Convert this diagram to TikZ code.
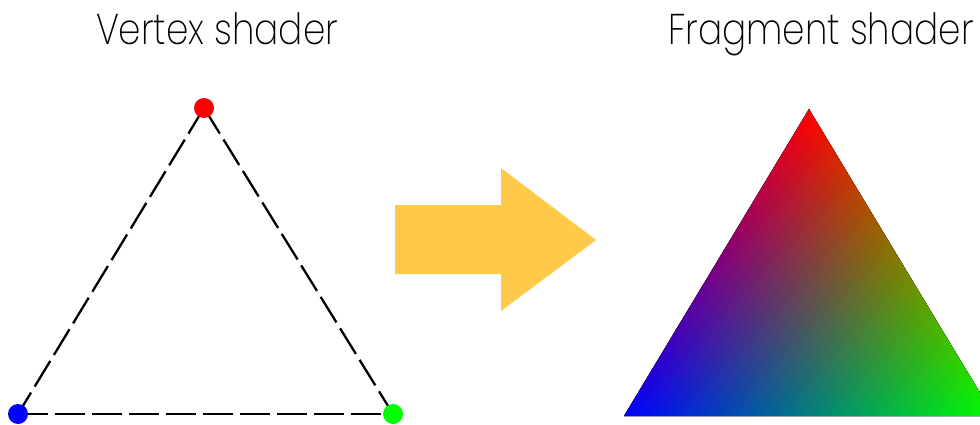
\documentclass[tikz,border=0pt]{standalone}
\usepackage{graphicx}
\usepackage{fontspec}
\newfontfamily\titlefont{Poppins ExtraLight}
\usetikzlibrary{backgrounds}
\definecolor{arrowyellow}{RGB}{255,201,74}
\newcommand{\narrow}[1]{\scalebox{0.834}[1]{#1}}

\begin{document}
\begin{tikzpicture}[x=1pt, y=1pt]
  \tikzstyle{title} = [font=\titlefont\fontsize{43}{43}\selectfont, anchor=base, inner sep=0pt]
  \tikzstyle{vertex} = [circle, minimum size=20pt, inner sep=0pt]
  \tikzstyle{edge} = [line width=2.3pt, dash pattern=on 30pt off 7pt]
  \useasboundingbox (0,0) rectangle (980,424);

  \node (vtitle) [title] at (217,379) {\narrow{Vertex shader}};
  \node (ftitle) [title] at (821,379) {\narrow{Fragment shader}};

  % vertex shader: the three vertices
  \node (vred) [vertex, fill=red] at (204,316) {};
  \node (vblue) [vertex, fill=blue] at (18,10) {};
  \node (vgreen) [vertex, fill=green] at (393,10) {};
  \begin{pgfonlayer}{background}
    \draw [edge] (vred.center) -- (vblue.center);
    \draw [edge] (vblue.center) -- (vgreen.center);
    \draw [edge] (vred.center) -- (vgreen.center);
  \end{pgfonlayer}

  % arrow
  \fill [arrowyellow] (395,150) -- (395,219) -- (501,219) -- (501,256) -- (596,184) -- (501,113) -- (501,150) -- cycle;

  % fragment shader: interpolated colours
  \coordinate (fred) at (809,315);
  \coordinate (fblue) at (624,8);
  \coordinate (fgreen) at (994,8);
  \begin{scope}
    \clip (fred) -- (fblue) -- (fgreen) -- cycle;
    \fill [black] (fred) -- (fblue) -- (fgreen) -- cycle;
    \shade [blend mode=screen, bottom color=black, top color=red] (624,8) rectangle (994,315);
    \begin{scope}[transform canvas={shift={(fblue)}, rotate=-58.93}]
      \shade [blend mode=screen, bottom color=blue, top color=black] (-500,0) rectangle (500,317);
    \end{scope}
    \begin{scope}[transform canvas={shift={(fgreen)}, rotate=58.93}]
      \shade [blend mode=screen, bottom color=green, top color=black] (-500,0) rectangle (500,317);
    \end{scope}
  \end{scope}
\end{tikzpicture}
\end{document}
